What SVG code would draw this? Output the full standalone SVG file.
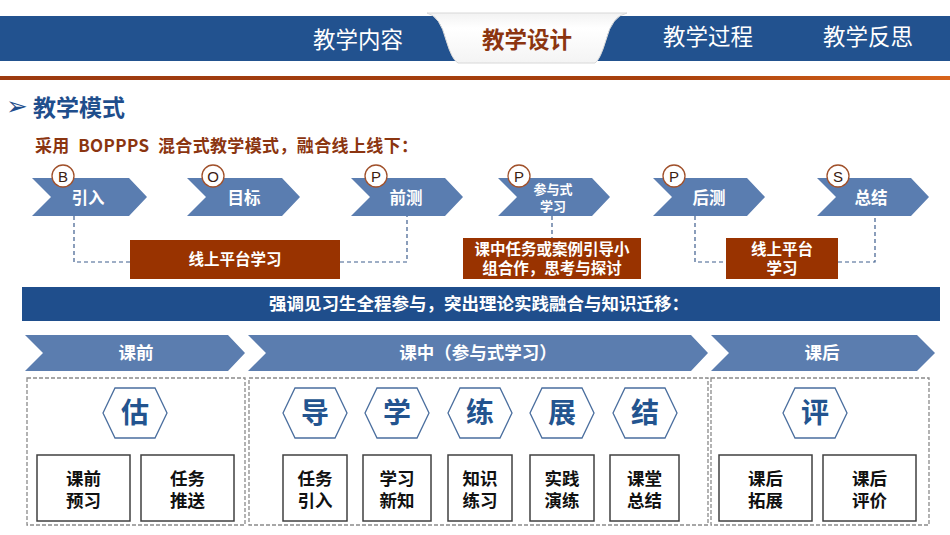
<svg xmlns="http://www.w3.org/2000/svg" width="950" height="535" viewBox="0 0 950 535">
<defs>
<linearGradient id="line" x1="0" x2="1" y1="0" y2="0">
<stop offset="0" stop-color="#9C3A10"/><stop offset="0.7" stop-color="#A8400C"/><stop offset="1" stop-color="#D8641A"/>
</linearGradient>
<linearGradient id="tab" x1="0" x2="0" y1="0" y2="1">
<stop offset="0" stop-color="#F2F2F2"/><stop offset="0.3" stop-color="#FFFFFF"/><stop offset="1" stop-color="#F4F4F4"/>
</linearGradient>
<style>
text{font-family:"Noto Sans CJK SC","Microsoft YaHei",sans-serif;}
.tab{fill:#FFFFFF;font-size:22.5px;text-anchor:middle;}
.chev{fill:#5A7DB0;}
.chev2{fill:#5B7DAF;}
.cl{fill:#FFFFFF;font-size:16.5px;font-weight:bold;text-anchor:middle;}
.pl{fill:#FFFFFF;font-size:17.5px;font-weight:bold;text-anchor:middle;}
.cls{fill:#FFFFFF;font-size:13px;font-weight:bold;text-anchor:middle;}
.circ{fill:#FFFFFF;stroke:#A0502A;stroke-width:1.3;}
.ct{fill:#3A2010;font-size:15px;text-anchor:middle;font-family:"Liberation Sans",sans-serif;}
.bb{fill:#993300;}
.bt{fill:#FFFFFF;font-size:15.5px;font-weight:bold;text-anchor:middle;}
.dash{fill:none;stroke:#3E5E8E;stroke-width:1.2;stroke-dasharray:4,3;}
.gdash{fill:none;stroke:#8A8A8A;stroke-width:1.3;stroke-dasharray:4,2;}
.hex{fill:#FFFFFF;stroke:#4A6E9E;stroke-width:1.3;}
.ht{fill:#23548F;font-size:28px;font-weight:bold;text-anchor:middle;}
.box{fill:#FFFFFF;stroke:#404040;stroke-width:1.5;}
.bxt{fill:#111111;font-size:17.5px;font-weight:bold;text-anchor:middle;}
</style>
</defs>
<rect width="950" height="535" fill="#FFFFFF"/>

<!-- header -->
<g id="header">
<rect x="0" y="16" width="950" height="45" fill="#22528F"/>
<path d="M427,13 L627,13 Q612,16 606,40 Q600,60 595,63 L458,63 Q452,60 446,40 Q440,16 427,13 Z" fill="url(#tab)" stroke="#D8D8D8" stroke-width="1"/>
<text class="tab" x="358" y="48">教学内容</text>
<text x="527" y="48" font-size="22.5" font-weight="bold" fill="#8B3510" text-anchor="middle">教学设计</text>
<text class="tab" x="708" y="45">教学过程</text>
<text class="tab" x="868" y="45">教学反思</text>
<rect x="0" y="76" width="950" height="4" fill="url(#line)"/>
</g>

<g id="title">
<text x="6" y="115" font-size="26" fill="#1F4E8C" font-family="DejaVu Sans,sans-serif">➢</text>
<text x="33" y="116" font-size="23" font-weight="bold" fill="#1F4E8C">教学模式</text>
<text x="35" y="152" font-size="17" font-weight="bold" fill="#8B3510" textLength="383" lengthAdjust="spacing" xml:space="preserve">采用  BOPPPS  混合式教学模式，融合线上线下：</text>
</g>

<!-- connectors -->
<g id="connectors">
<path class="dash" d="M74,216 L74,262 L130,262"/>
<path class="dash" d="M340,262 L407,262 L407,216"/>
<path class="dash" d="M552,216 L552,238"/>
<path class="dash" d="M695,216 L695,262 L726,262"/>
<path class="dash" d="M838,262 L875,262 L875,216"/>
</g>

<!-- BOPPPS chevrons -->
<g id="step-B">
<polygon class="chev" points="32,178 129,178 147,197 129,216 32,216 51,197"/>
<text class="cl" x="88" y="204">引入</text>
<circle class="circ" cx="63" cy="176" r="11"/><text class="ct" x="63" y="181.5">B</text>
</g>
<g id="step-O">
<polygon class="chev" points="187,178 282,178 300,197 282,216 187,216 206,197"/>
<text class="cl" x="244" y="204">目标</text>
<circle class="circ" cx="213" cy="176" r="11"/><text class="ct" x="213" y="181.5">O</text>
</g>
<g id="step-P1">
<polygon class="chev" points="351,178 445,178 463,197 445,216 351,216 370,197"/>
<text class="cl" x="406" y="204">前测</text>
<circle class="circ" cx="376" cy="176" r="11"/><text class="ct" x="376" y="181.5">P</text>
</g>
<g id="step-P2">
<polygon class="chev" points="498,178 592,178 610,197 592,216 498,216 517,197"/>
<text class="cls" x="553" y="194">参与式<tspan x="553" dy="17">学习</tspan></text>
<circle class="circ" cx="519" cy="176" r="11"/><text class="ct" x="519" y="181.5">P</text>
</g>
<g id="step-P3">
<polygon class="chev" points="653,178 747,178 765,197 747,216 653,216 672,197"/>
<text class="cl" x="709" y="204">后测</text>
<circle class="circ" cx="674" cy="176" r="11"/><text class="ct" x="674" y="181.5">P</text>
</g>
<g id="step-S">
<polygon class="chev" points="817,178 911,178 929,197 911,216 817,216 836,197"/>
<text class="cl" x="871" y="204">总结</text>
<circle class="circ" cx="838" cy="176" r="11"/><text class="ct" x="838" y="181.5">S</text>
</g>

<!-- brown boxes -->
<g id="online1">
<rect class="bb" x="130" y="240" width="210" height="39"/>
<text class="bt" x="235" y="265">线上平台学习</text>
</g>
<g id="inclass">
<rect class="bb" x="463" y="238" width="178" height="41"/>
<text class="bt" x="552" y="255">课中任务或案例引导小<tspan x="552" dy="19">组合作，思考与探讨</tspan></text>
</g>
<g id="online2">
<rect class="bb" x="726" y="238" width="112" height="41"/>
<text class="bt" x="782" y="255">线上平台<tspan x="782" dy="19">学习</tspan></text>
</g>

<!-- blue banner -->
<g id="banner">
<rect x="22" y="287" width="918" height="34" fill="#1F4E8C"/>
<text x="479" y="310" font-size="17.5" font-weight="bold" fill="#FFFFFF" text-anchor="middle">强调见习生全程参与，突出理论实践融合与知识迁移：</text>
</g>

<!-- phase chevrons -->
<g id="phase-pre">
<polygon class="chev2" points="25,335 228,335 245,353 228,371 25,371 43,353"/>
<text class="pl" x="136" y="359">课前</text>
</g>
<g id="phase-in">
<polygon class="chev2" points="248,335 691,335 708,353 691,371 248,371 266,353"/>
<text class="pl" x="478" y="359">课中（参与式学习）</text>
</g>
<g id="phase-post">
<polygon class="chev2" points="711,335 917,335 935,353 917,371 711,371 729,353"/>
<text class="pl" x="822" y="359">课后</text>
</g>

<!-- dashed containers -->
<g id="containers">
<rect class="gdash" x="27" y="378" width="218" height="147"/>
<rect class="gdash" x="249" y="378" width="459" height="147"/>
<rect class="gdash" x="711" y="378" width="218" height="147"/>
</g>

<!-- hexagons -->
<g id="hex-gu"><polygon class="hex" points="103,413 115,388 155,388 167,413 155,438 115,438"/><text class="ht" x="135" y="423">估</text></g>
<g id="hex-dao"><polygon class="hex" points="283,413 295,388 335,388 347,413 335,438 295,438"/><text class="ht" x="315" y="423">导</text></g>
<g id="hex-xue"><polygon class="hex" points="365,413 377,388 417,388 429,413 417,438 377,438"/><text class="ht" x="397" y="423">学</text></g>
<g id="hex-lian"><polygon class="hex" points="448,413 460,388 500,388 512,413 500,438 460,438"/><text class="ht" x="480" y="423">练</text></g>
<g id="hex-zhan"><polygon class="hex" points="530,413 542,388 582,388 594,413 582,438 542,438"/><text class="ht" x="562" y="423">展</text></g>
<g id="hex-jie"><polygon class="hex" points="613,413 625,388 665,388 677,413 665,438 625,438"/><text class="ht" x="645" y="423">结</text></g>
<g id="hex-ping"><polygon class="hex" points="783,413 795,388 835,388 847,413 835,438 795,438"/><text class="ht" x="815" y="423">评</text></g>

<!-- activity boxes -->
<g id="box-1"><rect class="box" x="37" y="455" width="93" height="66"/><text class="bxt" x="83.5" y="485">课前<tspan x="83.5" dy="22">预习</tspan></text></g>
<g id="box-2"><rect class="box" x="141" y="455" width="93" height="66"/><text class="bxt" x="187.5" y="485">任务<tspan x="187.5" dy="22">推送</tspan></text></g>
<g id="box-3"><rect class="box" x="283" y="455" width="64" height="66"/><text class="bxt" x="315" y="485">任务<tspan x="315" dy="22">引入</tspan></text></g>
<g id="box-4"><rect class="box" x="363" y="455" width="68" height="66"/><text class="bxt" x="397" y="485">学习<tspan x="397" dy="22">新知</tspan></text></g>
<g id="box-5"><rect class="box" x="448" y="455" width="64" height="66"/><text class="bxt" x="480" y="485">知识<tspan x="480" dy="22">练习</tspan></text></g>
<g id="box-6"><rect class="box" x="530" y="455" width="64" height="66"/><text class="bxt" x="562" y="485">实践<tspan x="562" dy="22">演练</tspan></text></g>
<g id="box-7"><rect class="box" x="610" y="455" width="69" height="66"/><text class="bxt" x="644.5" y="485">课堂<tspan x="644.5" dy="22">总结</tspan></text></g>
<g id="box-8"><rect class="box" x="719" y="455" width="93" height="66"/><text class="bxt" x="765.5" y="485">课后<tspan x="765.5" dy="22">拓展</tspan></text></g>
<g id="box-9"><rect class="box" x="823" y="455" width="93" height="66"/><text class="bxt" x="869.5" y="485">课后<tspan x="869.5" dy="22">评价</tspan></text></g>
</svg>
